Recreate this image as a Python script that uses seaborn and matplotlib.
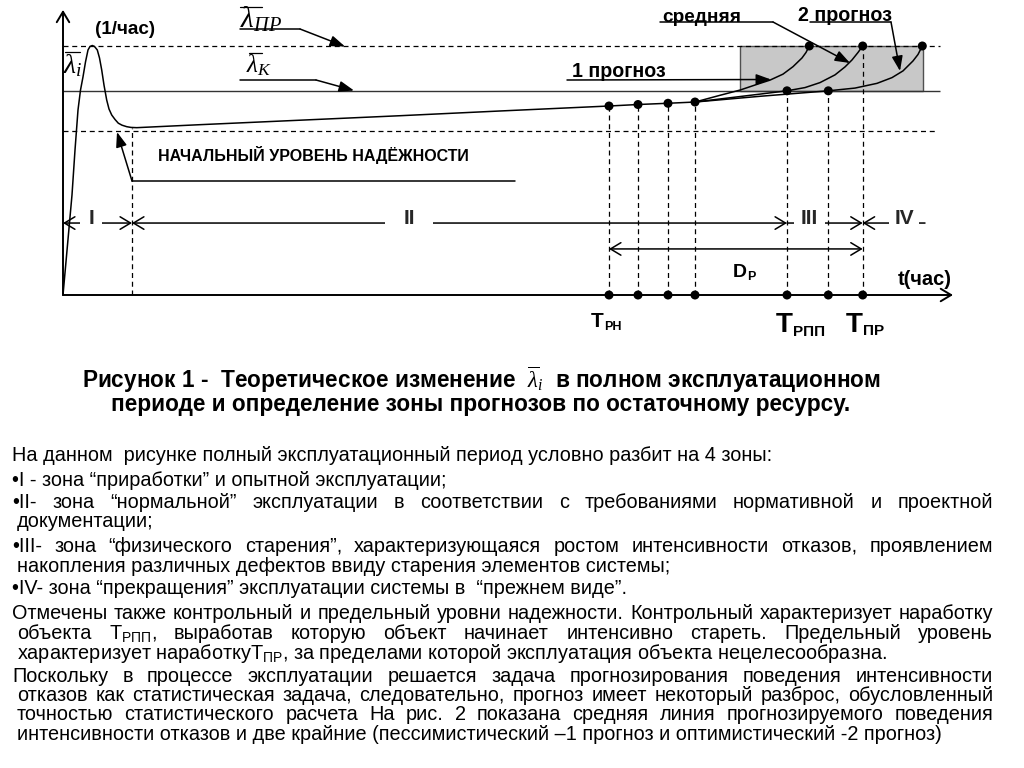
import matplotlib
matplotlib.use("Agg")
import matplotlib.pyplot as plt
import matplotlib.transforms as mtransforms
from matplotlib import font_manager as fm
from matplotlib.patches import Rectangle
import pandas as pd
import seaborn as sns

# ---------------- data ----------------
# failure intensity λ(t) over the whole service life (t – conventional units, λ relative to λ_ПР)
t_curve = [0, 0.45, 0.9, 1.2, 1.5, 1.75, 2.0, 2.25, 2.5, 2.7, 2.93, 3.15, 3.43, 3.65, 3.87,
           4.1, 4.37, 4.6, 4.87, 5.2, 5.53, 5.9, 6.37, 6.8, 7.37, 13.7, 23.7, 33.7, 43.7,
           54.6, 57.5, 60.5, 63.2]
lam_curve = [0, 0.201, 0.402, 0.582, 0.743, 0.823, 0.876, 0.936, 0.984, 0.998, 1.002, 0.998,
             0.984, 0.952, 0.904, 0.843, 0.783, 0.747, 0.723, 0.705, 0.690, 0.682, 0.676,
             0.673, 0.672, 0.684, 0.702, 0.720, 0.739, 0.759, 0.765, 0.770, 0.775]
# observation points
t_obs = [54.6, 57.5, 60.5, 63.2]
lam_obs = [0.759, 0.765, 0.770, 0.775]
# forecasts: 1 (pessimistic), mean, 2 (optimistic)
t_fc1 = [63.2, 65.7, 67.7, 69.7, 70.7, 72.0, 73.0, 73.9, 74.3, 74.63]
lam_fc1 = [0.775, 0.802, 0.823, 0.850, 0.863, 0.887, 0.917, 0.952, 0.974, 1.0]
t_fcm = [63.2, 67.7, 72.4, 74.2, 75.7, 77.2, 78.2, 78.9, 79.5, 79.97]
lam_fcm = [0.775, 0.797, 0.820, 0.833, 0.853, 0.884, 0.916, 0.944, 0.974, 1.0]
t_fc2 = [63.2, 69.7, 76.53, 79.2, 81.4, 82.9, 84.0, 85.0, 85.5, 85.93]
lam_fc2 = [0.775, 0.798, 0.820, 0.831, 0.850, 0.873, 0.900, 0.940, 0.966, 1.0]
# reliability levels
lam_pr = 1.0     # предельный
lam_k = 0.82     # контрольный
lam_0 = 0.66     # начальный
lam_min = 0.672
# characteristic times
t_I = 6.9
T_RN = 54.6
T_RPP = 72.4
T_ALT = 76.53
T_PR = 79.97
t_zone_end = 86.2
t_level_end = 87.7
t_level0_end = 87.2
t_axis_end = 89.0
lam_axis_end = 1.145
box_t = [67.7, 86.0]
zone_edges = [0, t_I, T_RPP, T_PR, t_zone_end]
zone_labels = ["I", "II", "III", "IV"]
t_marks = t_obs + [T_RPP, T_ALT, T_PR]

body_lines = [
    ("На данном  рисунке полный эксплуатационный период условно разбит на 4 зоны:", 461, 12, False),
    ("•I - зона “приработки” и опытной эксплуатации;", 486, 12, False),
    ("•II- зона “нормальной” эксплуатации в соответствии с требованиями нормативной и проектной", 508, 12, True),
    ("документации;", 527, 17, False),
    ("•III- зона “физического старения”, характеризующаяся ростом интенсивности отказов, проявлением", 552, 12, True),
    ("накопления различных дефектов ввиду старения элементов системы;", 572, 17, False),
    ("•IV- зона “прекращения” эксплуатации системы в  “прежнем виде”.", 594, 12, False),
    ("Отмечены также контрольный и предельный уровни надежности. Контрольный характеризует наработку", 619, 12, True),
    (r"объекта T$_{\mathregular{РПП}}$, выработав которую объект начинает интенсивно стареть. Предельный уровень", 639, 17, True),
    (r"характеризует наработкуT$_{\mathregular{ПР}}$, за пределами которой эксплуатация объекта нецелесообразна.", 659, 17, False),
    ("Поскольку в процессе эксплуатации решается задача прогнозирования поведения интенсивности", 682, 12, True),
    ("отказов как статистическая задача, следовательно, прогноз имеет некоторый разброс, обусловленный", 701, 17, True),
    ("точностью статистического расчета  На рис. 2 показана средняя линия прогнозируемого поведения", 720, 17, True),
    ("интенсивности отказов и две крайние (пессимистический –1 прогноз и оптимистический -2 прогноз)", 740, 17, False),
]
caption_1 = r"Рисунок 1 -  Теоретическое изменение  $\overline{\lambda}_i$  в полном эксплуатационном"
caption_2 = "периоде и определение зоны прогнозов по остаточному ресурсу."

# ---------------- style ----------------
sns.set_theme(style="white")
SANS = ["Liberation Sans", "DejaVu Sans"]
plt.rcParams["font.family"] = SANS
plt.rcParams["mathtext.fontset"] = "custom"
plt.rcParams["mathtext.it"] = "Liberation Serif:italic"
plt.rcParams["mathtext.rm"] = "Liberation Serif"
plt.rcParams["mathtext.bf"] = "Liberation Serif:bold"
names = {f.name for f in fm.fontManager.ttflist}
NARROW = ["Liberation Sans Narrow", "Liberation Sans", "DejaVu Sans"] if "Liberation Sans Narrow" in names else SANS

W, H = 1024, 768
fig = plt.figure(figsize=(W / 100, H / 100), dpi=100)
fig.patch.set_facecolor("white")
ax = fig.add_axes([0, 0, 1, 1])
PX = mtransforms.Affine2D().scale(1, -1).translate(0, H)
R = fig.canvas.get_renderer()

DASH = (0, (4, 3))
K = "black"

# gray forecast zone
ax.add_patch(Rectangle((box_t[0], lam_k), box_t[1] - box_t[0], lam_pr - lam_k,
                       facecolor="#c8c8c8", edgecolor="#505050", lw=1.0, zorder=1))
# levels
ax.hlines(lam_pr, 0, t_level_end, colors=K, linestyles=DASH, lw=0.9, zorder=2)
ax.hlines(lam_k, 0, t_level_end, colors="#333333", lw=1.0, zorder=2)
ax.hlines(lam_0, 0, t_level0_end, colors=K, linestyles=DASH, lw=0.9, zorder=2)
# vertical projections
ax.vlines([t_I] + t_obs + [T_RPP, T_ALT, T_PR], 0,
          [lam_min] + lam_obs + [lam_k, lam_k, lam_pr],
          colors=K, linestyles=DASH, lw=0.9, zorder=2)

# curves
sns.lineplot(data=pd.DataFrame({"t": t_curve, "lam": lam_curve}), x="t", y="lam",
             ax=ax, color=K, lw=1.1, estimator=None, sort=False, zorder=3)
for tt, ll in [(t_fc1, lam_fc1), (t_fcm, lam_fcm), (t_fc2, lam_fc2)]:
    sns.lineplot(data=pd.DataFrame({"t": tt, "lam": ll}), x="t", y="lam",
                 ax=ax, color=K, lw=1.1, estimator=None, sort=False, zorder=3)

pts = pd.DataFrame({
    "t": t_obs + [T_RPP, T_ALT] + [t_fc1[-1], t_fcm[-1], t_fc2[-1]] + t_marks,
    "lam": lam_obs + [lam_k, lam_k] + [lam_pr] * 3 + [0] * len(t_marks),
})
sns.scatterplot(data=pts, x="t", y="lam", ax=ax, color=K, s=42, edgecolor="none", zorder=5)

# axes with arrows
ax_arrow = dict(arrowstyle="->,head_length=0.5,head_width=0.3", lw=1.4, color=K,
                shrinkA=0, shrinkB=0, mutation_scale=15)
ax.annotate("", xy=(0, lam_axis_end), xytext=(0, 0), arrowprops=ax_arrow, zorder=4)
ax.annotate("", xy=(t_axis_end, 0), xytext=(0, 0), arrowprops=ax_arrow, zorder=4)

# zone arrows
y_zone = 0.289
y_dp = 0.185
zstyle = dict(lw=1.1, color=K, shrinkA=0, shrinkB=0, mutation_scale=15)
styles = ["<->,head_length=0.5,head_width=0.3", "<->,head_length=0.5,head_width=0.3",
          "->,head_length=0.5,head_width=0.3", "<-,head_length=0.5,head_width=0.3"]
for (a, b), st in zip(zip(zone_edges[:-1], zone_edges[1:]), styles):
    ax.annotate("", xy=(b, y_zone), xytext=(a, y_zone), arrowprops=dict(arrowstyle=st, **zstyle))
ax.annotate("", xy=(T_PR, y_dp), xytext=(T_RN, y_dp),
            arrowprops=dict(arrowstyle="<->,head_length=0.5,head_width=0.3", **zstyle))

zone_x = [91, 409, 809, 904]
for lab, zx, pad in zip(zone_labels, zone_x, [6, 13, 5, 4]):
    ax.text(zx, 219, lab, transform=PX, ha="center", va="center", fontsize=15,
            fontweight="bold", family=NARROW,
            bbox=dict(facecolor="white", edgecolor="none", pad=pad), zorder=6)

ax.set_xlim(-6.3, 96.1)
ax.set_ylim((295 - H) / 249, 295 / 249)
ax.axis("off")


def wid(t):
    return t.get_window_extent(renderer=R).width


def txt(x, y, s, size=12, ha="left", va="baseline", weight="bold", family=SANS, fit=None, **kw):
    t = ax.text(x, y, s, transform=PX, fontsize=size, ha=ha, va=va, fontweight=weight,
                family=family, color=K, **kw)
    if fit:
        t.set_fontsize(size * fit / wid(t))
    return t


def sub_label(x, y, main, sub, size, sub_size, dy):
    t = txt(x, y, main, size=size, family=NARROW)
    x1 = t.get_window_extent(renderer=R).x1
    txt(x1 + 0.5, y + dy, sub, size=sub_size, family=NARROW)


def lam_label(x, y, sub, size, bar_y, bar_x0, bar_x1):
    txt(x, y, r"$\lambda_{%s}$" % sub, size=size, weight="normal")
    ax.plot([bar_x0, bar_x1], [bar_y, bar_y], color=K, lw=0.9, transform=PX)


def leader(p0, p1, p2=None):
    if p2 is None:
        ax.annotate("", xy=p1, xytext=p0, xycoords=PX, textcoords=PX,
                    arrowprops=dict(arrowstyle="-|>,head_length=0.6,head_width=0.22", lw=1.1,
                                    color=K, shrinkA=0, shrinkB=0, mutation_scale=15))
    else:
        ax.plot([p0[0], p1[0]], [p0[1], p1[1]], color=K, lw=1.1, transform=PX)
        leader(p1, p2)


# diagram labels
txt(95, 34, "(1/час)", size=12, fit=60)
txt(158, 161, "НАЧАЛЬНЫЙ УРОВЕНЬ НАДЁЖНОСТИ", size=11, fit=309)
txt(572, 77, "1 прогноз", size=12, fit=93)
txt(662, 22, "средняя", size=12, fit=78)
txt(798, 21, "2 прогноз", size=12, fit=94)
txt(898, 285, "t(час)", size=14, family=NARROW, fit=54)

lam_label(63, 73, "i", 20, 52, 65, 80)
lam_label(240, 28, "ПР", 21, 7, 240, 262)
lam_label(246, 72, "K", 18, 53, 249, 262)

leader((240, 29), (300, 29), (345, 46.5))
leader((240, 80), (316, 80), (354, 90.5))
leader((515, 181), (132, 181), (117, 132))
leader((567, 80), (771, 79.5))
leader((660, 22), (773, 22), (850, 63))
leader((810, 22), (891, 22), (900, 71))

# D_P and T labels
sub_label(733, 277, "D", "P", 14, 9, 3)
sub_label(591, 327, "T", "РН", 15, 9, 3)
sub_label(776, 332, "T", "РПП", 20, 11, 4)
sub_label(846, 332, "T", "ПР", 20, 11, 3)

# caption
c1 = txt(482, 388, caption_1, size=14, ha="center", fit=800)
txt(481, 411, caption_2, size=c1.get_fontsize(), ha="center")

# body text
probe = txt(12, 461, body_lines[0][0], size=13, weight="normal")
body_size = 13 * 758 / wid(probe)
probe.remove()
for s, y, x0, just in body_lines:
    if not just:
        txt(x0, y, s, size=body_size, weight="normal")
    else:
        words = s.split()
        arts = [txt(0, y, w, size=body_size, weight="normal") for w in words]
        ws = [wid(a) for a in arts]
        gap = (993 - x0 - sum(ws)) / (len(arts) - 1)
        x = x0
        for a, w in zip(arts, ws):
            a.set_position((x, y))
            x += w + gap

fig.savefig("out.png", dpi=100, facecolor="white")
